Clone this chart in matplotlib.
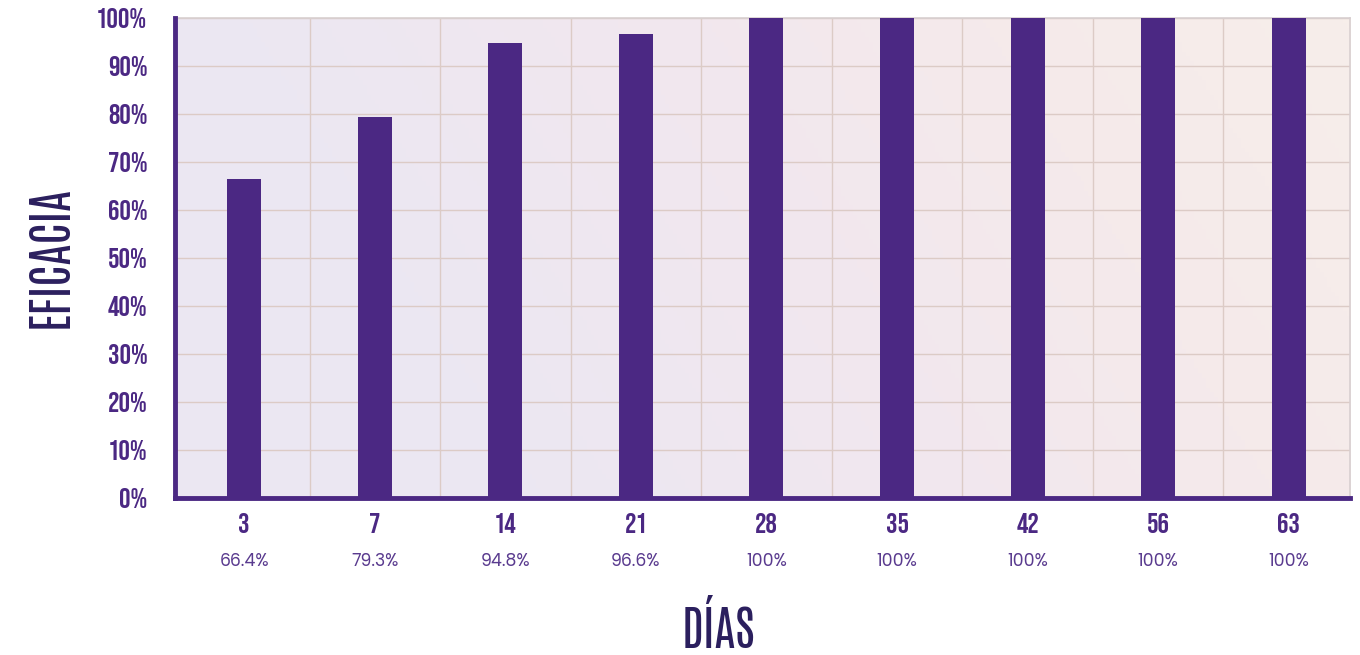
import numpy as np
import matplotlib
matplotlib.use('Agg')
import matplotlib.pyplot as plt
from matplotlib.colors import LinearSegmentedColormap

# data
days = ['3', '7', '14', '21', '28', '35', '42', '56', '63']
efficacy = [66.4, 79.3, 94.8, 96.6, 100, 100, 100, 100, 100]
efficacy_labels = ['66.4%', '79.3%', '94.8%', '96.6%', '100%', '100%', '100%', '100%', '100%']
y_ticks = [0, 10, 20, 30, 40, 50, 60, 70, 80, 90, 100]

bar_color = '#4b2883'
label_color = '#2b1f5e'
grid_color = '#dccbc6'
tick_font = ['Bebas Neue', 'DejaVu Sans']
title_font = ['Antonio', 'League Gothic', 'DejaVu Sans']
small_font = ['Poppins', 'Open Sans', 'DejaVu Sans']

fig = plt.figure(figsize=(13.6, 6.55), dpi=100)
ax = fig.add_axes([0.1287, 0.2397, 0.8640, 0.7328])

x = np.arange(len(days))

# soft diagonal gradient, lavender -> blush
cmap = LinearSegmentedColormap.from_list('bg', ['#ebe7f2', '#ece7f2', '#f1e7ef', '#f5eaeb', '#f7eeea'])
gx, gy = np.meshgrid(np.linspace(0, 1, 300), np.linspace(0, 1, 100))
ax.imshow(gx * 0.8 + (1 - gy) * 0.2, cmap=cmap, extent=[0, 1, 0, 1], transform=ax.transAxes,
          aspect='auto', zorder=0)

ax.bar(x, efficacy, width=0.26, color=bar_color, zorder=3)

ax.set_xlim(-0.53, 8.47)
ax.set_ylim(0, 100)
ax.set_yticks(y_ticks)
ax.set_yticklabels([f'{t}%' for t in y_ticks])
ax.set_xticks(x)
ax.set_xticklabels(days)
ax.set_xticks(x[:-1] + 0.5, minor=True)

ax.grid(axis='y', which='major', color=grid_color, linewidth=1, zorder=1)
ax.grid(axis='x', which='minor', color=grid_color, linewidth=1, zorder=1)
ax.grid(axis='x', which='major', visible=False)

ax.tick_params(axis='both', which='both', length=0)
ax.tick_params(axis='y', pad=20, labelcolor=bar_color)
ax.tick_params(axis='x', pad=11, labelcolor=bar_color)
for lab in ax.get_yticklabels() + ax.get_xticklabels():
    lab.set_fontfamily(tick_font)
    lab.set_fontsize(20.5)

for side in ['top', 'right']:
    ax.spines[side].set_color('#d8cfd0')
    ax.spines[side].set_linewidth(1.2)
for side in ['left', 'bottom']:
    ax.spines[side].set_color(bar_color)
    ax.spines[side].set_linewidth(3.5)
    ax.spines[side].set_zorder(4)

for xi, lab in zip(x, efficacy_labels):
    ax.annotate(lab, xy=(xi, 0), xycoords=('data', 'axes fraction'), xytext=(0, -46),
                textcoords='offset points', ha='center', va='center',
                fontsize=12.5, family=small_font, color='#5a3b8f')

fig.text(0.037, 0.607, 'EFICACIA', rotation=90, ha='center', va='center',
         fontsize=34, family=title_font, weight='medium', color=label_color)
fig.text(0.528, 0.01, 'DÍAS', ha='center', va='baseline',
         fontsize=34, family=title_font, weight='medium', color=label_color)

fig.savefig('out.png', dpi=100)
